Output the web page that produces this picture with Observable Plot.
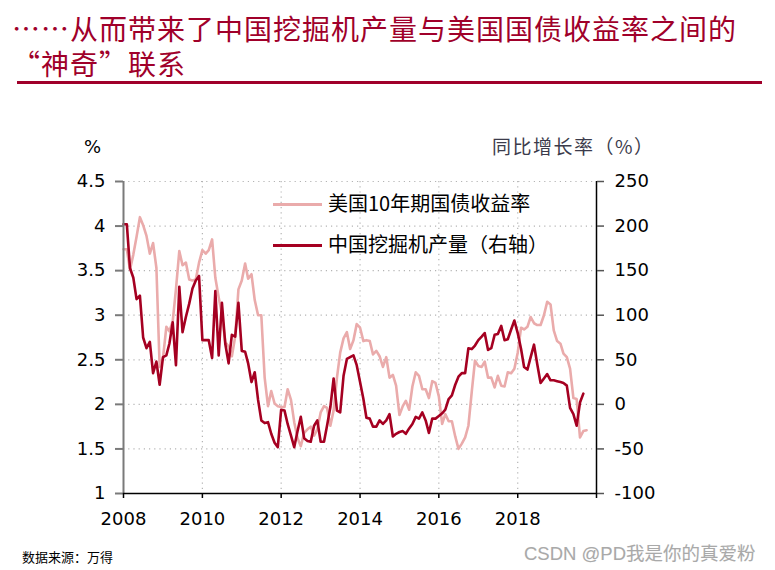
<!DOCTYPE html>
<html><head><meta charset="utf-8">
<script src="https://cdn.jsdelivr.net/npm/d3@7"></script>
<script src="https://cdn.jsdelivr.net/npm/@observablehq/plot@0.6"></script>
<style>
html,body{margin:0;padding:0;background:#fff;}
body{width:775px;height:570px;overflow:hidden;position:relative;font-family:"Noto Sans CJK SC","Noto Sans",sans-serif;}
.title{position:absolute;left:12px;color:#A0002A;font-size:28px;line-height:30px;letter-spacing:1px;white-space:nowrap;}
#rule{position:absolute;left:17px;top:81px;width:745px;height:3px;background:#A0002A;}
#chart{position:absolute;left:0;top:90px;}
.lab{position:absolute;font-size:18px;white-space:nowrap;line-height:20px;}
.leg{position:absolute;left:273px;font-size:20px;line-height:22px;white-space:nowrap;color:#000;}
.leg span.sw{display:inline-block;width:49px;height:2.5px;vertical-align:middle;margin-right:6px;position:relative;top:-1px;}
#src{position:absolute;left:22px;top:550px;font-size:13px;line-height:14px;color:#000;}
#wm{position:absolute;left:524px;top:539px;font-size:18.5px;color:#a9a9a9;font-family:"Liberation Sans","Noto Sans CJK SC",sans-serif;text-shadow:0 0 1px #eee;}
</style>
</head><body>
<div class="title" style="top:13px;">……从而带来了中国挖掘机产量与美国国债收益率之间的</div>
<div class="title" style="top:48px;">“神奇”联系</div>
<div id="rule"></div>
<div id="chart"></div>
<div class="lab" style="left:84px;top:137px;font-family:'DejaVu Sans',sans-serif;">%</div>
<div class="lab" style="left:492px;top:136px;font-size:19px;color:#3b3b4b;letter-spacing:1.5px;">同比增长率（%）</div>
<div class="leg" style="top:192px;"><span class="sw" style="background:#EAABAB"></span>美国10年期国债收益率</div>
<div class="leg" style="top:233px;"><span class="sw" style="background:#A50021"></span>中国挖掘机产量（右轴）</div>
<div id="src">数据来源：万得</div>
<div id="wm">CSDN @PD我是你的真爱粉</div>
<script>
// ---- data (monthly, starting Jan 2008) ----
const startMonth = "2008-01-01";
// US 10-year Treasury yield, % (left axis), Jan 2008 – Oct 2019
const usYield = [
  3.74, 3.74, 3.51, 3.68, 3.88, 4.10, 4.01, 3.89, 3.69, 3.81, 3.53, 2.42,
  2.52, 2.87, 2.82, 2.93, 3.29, 3.72, 3.56, 3.59, 3.40, 3.39, 3.40, 3.59,
  3.73, 3.69, 3.73, 3.85, 3.42, 3.20, 3.01, 2.70, 2.65, 2.54, 2.76, 3.29,
  3.39, 3.58, 3.41, 3.46, 3.17, 3.00, 3.00, 2.30, 1.98, 2.15, 2.01, 1.98,
  1.97, 1.97, 2.17, 2.05, 1.80, 1.62, 1.53, 1.68, 1.72, 1.75, 1.65, 1.72,
  1.91, 1.98, 1.96, 1.76, 1.93, 2.30, 2.58, 2.74, 2.81, 2.62, 2.72, 2.90,
  2.86, 2.71, 2.72, 2.71, 2.56, 2.60, 2.54, 2.42, 2.53, 2.30, 2.33, 2.21,
  1.88, 1.98, 2.04, 1.94, 2.20, 2.36, 2.32, 2.17, 2.17, 2.07, 2.26, 2.24,
  2.09, 1.78, 1.89, 1.81, 1.81, 1.64, 1.50, 1.56, 1.63, 1.76, 2.14, 2.49,
  2.43, 2.42, 2.48, 2.30, 2.30, 2.19, 2.32, 2.21, 2.20, 2.36, 2.35, 2.40,
  2.58, 2.86, 2.84, 2.87, 2.98, 2.91, 2.89, 2.89, 3.00, 3.15, 3.12, 2.83,
  2.71, 2.68, 2.57, 2.53, 2.40, 2.07, 2.06, 1.63, 1.70, 1.71
];
// China excavator output, YoY % (right axis), Jan 2008 – Sep 2019
const excavatorYoY = [
  202, 202, 153, 142, 118, 122, 75, 63, 70, 35, 48, 22,
  53, 55, 68, 92, 44, 132, 81, 98, 113, 130, 139, 144,
  72, 72, 72, 52, 127, 55, 114, 68, 46, 78, 76, 114,
  60, 59, 46, 25, 36, 5, -18, -21, -20, -33, -43, -48,
  -6, -7, -22, -35, -48, -30, -14, -38, -41, -42, -24, -18,
  -42, -42, -24, -3, 29, -7, -9, 32, 51, 53, 55, 44,
  25, 6, -15, -16, -25, -25, -18, -22, -18, -11, -36, -33,
  -31, -30, -33, -27, -22, -14, -16, -9, -18, -32, -16, -16,
  -13, -10, -6, 6, 10, 22, 31, 35, 35, 63, 62, 66,
  72, 76, 80, 61, 63, 78, 79, 88, 72, 73, 84, 94,
  80, 62, 42, 39, 53, 67, 45, 24, 29, 34, 27, 27,
  26, 25, 24, 21, -4, -11, -24, 2, 12
];
// axis ticks
const leftTicks = [1, 1.5, 2, 2.5, 3, 3.5, 4, 4.5];
const yearTicks = [2008, 2010, 2012, 2014, 2016, 2018, 2020];
const gridYears = [2010, 2012, 2014, 2016, 2018];
const seriesNames = ["美国10年期国债收益率", "中国挖掘机产量（右轴）"];
const colors = ["#EAABAB", "#A50021"];

// ---- build ----
const t0 = new Date(startMonth);
const yieldData = usYield.map((v, i) => ({date: d3.utcMonth.offset(t0, i), v}));
// right axis mapped onto left scale: left = 2 + yoy/100
const excData = excavatorYoY.map((v, i) => ({date: d3.utcMonth.offset(t0, i), v: 2 + v / 100}));
const yr = y => new Date(Date.UTC(y, 0, 1));

const chart = Plot.plot({
  width: 775,
  height: 480,
  marginTop: 91,
  marginBottom: 77,
  marginLeft: 123,
  marginRight: 179,
  style: {fontFamily: "'DejaVu Sans', Verdana, sans-serif", fontSize: "18px", background: "transparent", overflow: "visible"},
  x: {type: "utc", domain: [yr(2008), yr(2020)]},
  y: {domain: [1, 4.5]},
  marks: [
    Plot.ruleY(leftTicks.filter(d => d > 1), {stroke: "#b4b4b4", strokeWidth: 1.2, strokeDasharray: "1.2,4"}),
    Plot.ruleX(gridYears.map(yr), {stroke: "#b4b4b4", strokeWidth: 1.2, strokeDasharray: "1.2,4"}),
    Plot.line(yieldData, {x: "date", y: "v", stroke: colors[0], strokeWidth: 2.6, curve: "linear"}),
    Plot.line(excData, {x: "date", y: "v", stroke: colors[1], strokeWidth: 2.6, curve: "linear"}),
    Plot.ruleX([yr(2008)], {stroke: "#7a7a7a", strokeWidth: 2}),
    Plot.ruleX([yr(2020)], {stroke: "#000", strokeWidth: 1.5}),
    Plot.ruleY([1], {stroke: "#000", strokeWidth: 1.5}),
    Plot.axisY(leftTicks, {anchor: "left", tickSize: 8, tickPadding: 10, stroke: "#7a7a7a", strokeWidth: 2, fill: "#000", fontSize: 18, label: null,
      tickFormat: d => String(d)}),
    Plot.axisY(leftTicks, {anchor: "right", tickSize: 7, tickPadding: 11, stroke: "#555", strokeWidth: 1.5, fill: "#000", fontSize: 18, label: null,
      tickFormat: d => String(Math.round((d - 2) * 100))}),
    Plot.axisX(yearTicks.map(yr), {anchor: "bottom", tickSize: 5, tickPadding: 14, stroke: "#000", strokeWidth: 1.5, fill: "#000", fontSize: 18, label: null,
      tickFormat: d => d.getUTCFullYear() === 2020 ? "" : String(d.getUTCFullYear())})
  ]
});
document.getElementById("chart").appendChild(chart);
</script>
</body></html>
